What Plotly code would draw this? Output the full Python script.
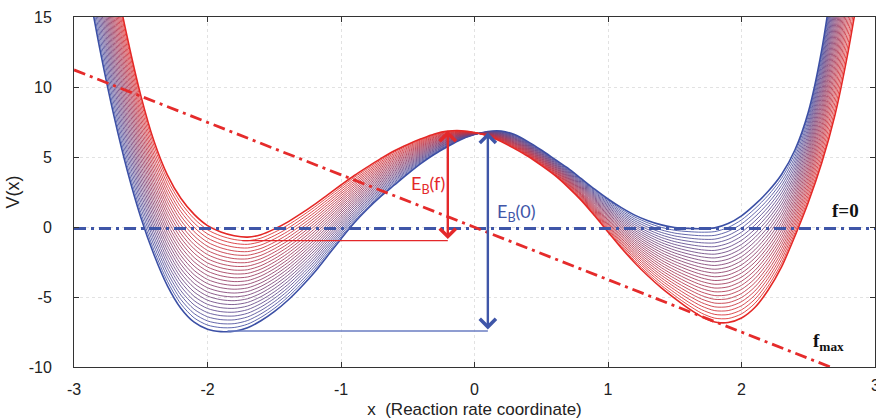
import numpy as np
import plotly.graph_objects as go

# ---- data ----
x_grid = [-2.9, -2.8, -2.7, -2.6, -2.5, -2.4, -2.3, -2.2, -2.1, -2.0,
          -1.9, -1.8, -1.7, -1.6, -1.5, -1.4, -1.3, -1.2, -1.1, -1.0,
          -0.9, -0.8, -0.7, -0.6, -0.5, -0.4, -0.3, -0.2, -0.1, 0.0,
          0.1, 0.2, 0.3, 0.4, 0.5, 0.6, 0.7, 0.8, 0.9, 1.0,
          1.1, 1.2, 1.3, 1.4, 1.5, 1.6, 1.7, 1.8, 1.9, 2.0,
          2.1, 2.2, 2.3, 2.4, 2.5, 2.6, 2.7, 2.8, 2.9]

# potential at f = 0 (outer blue curve)
v_f0 = [17.5, 12.4, 7.9, 4.0, 0.7, -2.0, -4.2, -5.8, -6.8, -7.3,
        -7.47, -7.45, -7.2, -6.7, -6.05, -5.25, -4.3, -3.25, -2.05, -0.85,
        0.3, 1.3, 2.2, 3.0, 3.8, 4.55, 5.2, 5.75, 6.25, 6.6,
        6.82, 6.85, 6.6, 6.1, 5.5, 4.85, 4.2, 3.45, 2.7, 2.0,
        1.38, 0.85, 0.45, 0.15, -0.03, -0.1, -0.12, -0.06, 0.25, 0.8,
        1.6, 2.55, 3.75, 5.5, 8.2, 12.6, 19.0, 27.0, 37.0]

# potential at f = f_max (outer red curve)
v_fmax = [30.0, 24.0, 18.2, 13.5, 9.4, 6.1, 3.7, 2.05, 0.9, 0.1,
          -0.35, -0.62, -0.72, -0.55, -0.15, 0.35, 0.95, 1.6, 2.3, 3.0,
          3.68, 4.3, 4.9, 5.45, 5.9, 6.3, 6.65, 6.85, 6.88, 6.75,
          6.5, 6.1, 5.6, 5.05, 4.4, 3.7, 2.85, 1.9, 0.8, -0.35,
          -1.5, -2.55, -3.5, -4.35, -5.1, -5.8, -6.4, -6.78, -6.82, -6.5,
          -5.75, -4.5, -2.85, -0.65, 1.75, 4.55, 8.0, 12.6, 18.2]

n_curves = 26
force_fraction = np.linspace(0.0, 1.0, n_curves)

f0_level = -0.1
fmax_line_x = [-3.0, 2.70]
fmax_line_v = [11.22, -10.13]

# barrier markers
ebf_x, ebf_low, ebf_high, ebf_from = -0.2, -0.97, 6.88, -1.74
eb0_x, eb0_low, eb0_high, eb0_from = 0.1, -7.42, 6.75, -1.85

x_ticks = [-3, -2, -1, 0, 1, 2, 3]
y_ticks = [-10, -5, 0, 5, 10, 15]

BLUE = (59, 79, 165)
RED = (228, 40, 38)
blue_hex = "#3b4fa5"
red_hex = "#e4282a"
tick_font = dict(family="Liberation Sans", size=16, color="#222")

fig = go.Figure()

v0 = np.array(v_f0)
v1 = np.array(v_fmax)
for i, t in enumerate(force_fraction):
    c = tuple(int(round(BLUE[k] * (1 - t) + RED[k] * t)) for k in range(3))
    w = 1.6 if i in (0, n_curves - 1) else 0.85
    fig.add_trace(go.Scatter(
        x=x_grid, y=(1 - t) * v0 + t * v1, mode="lines",
        line=dict(color="rgb(%d,%d,%d)" % c, width=w, shape="spline", smoothing=0.8),
        hoverinfo="skip"))

# f = 0 reference line
fig.add_trace(go.Scatter(
    x=[x_ticks[0], x_ticks[-1]], y=[f0_level, f0_level], mode="lines",
    line=dict(color="#3f56a8", width=3, dash="12px,5px,3px,5px"), hoverinfo="skip"))
# f_max tilt line
fig.add_trace(go.Scatter(
    x=fmax_line_x, y=fmax_line_v, mode="lines",
    line=dict(color="#e52b2b", width=2.8, dash="12px,5px,3px,5px"), hoverinfo="skip"))

# horizontal base lines for the barriers
fig.add_trace(go.Scatter(
    x=[ebf_from, ebf_x], y=[ebf_low, ebf_low], mode="lines",
    line=dict(color=red_hex, width=1.3), hoverinfo="skip"))
fig.add_trace(go.Scatter(
    x=[eb0_from, eb0_x], y=[eb0_low, eb0_low], mode="lines",
    line=dict(color="#6a7cc2", width=1.5), hoverinfo="skip"))

# double-headed arrows
for (xa, lo, hi, col) in [(ebf_x, ebf_low, ebf_high, red_hex),
                          (eb0_x, eb0_low, eb0_high, "#3f56a8")]:
    fig.add_annotation(x=xa, y=hi, ax=xa, ay=lo, xref="x", yref="y",
                       axref="x", ayref="y", text="", showarrow=True,
                       arrowhead=4, startarrowhead=4, arrowside="end+start",
                       arrowsize=1.3, startarrowsize=1.3,
                       arrowwidth=2.4, arrowcolor=col, standoff=0, startstandoff=0)

fig.add_annotation(x=-0.49, y=3.05, xref="x", yref="y", xanchor="left", yanchor="middle",
                   text="E<sub>B</sub>(f)", showarrow=False,
                   font=dict(family="Lato", size=18, color=red_hex))
fig.add_annotation(x=0.15, y=1.05, xref="x", yref="y", xanchor="left", yanchor="middle",
                   text="E<sub>B</sub>(0)", showarrow=False,
                   font=dict(family="Lato", size=18, color="#4056a8"))
fig.add_annotation(x=2.78, y=1.15, xref="x", yref="y", xanchor="center", yanchor="middle",
                   text="<b>f=0</b>", showarrow=False,
                   font=dict(family="Liberation Serif", size=19, color="#111"))
fig.add_annotation(x=2.65, y=-8.2, xref="x", yref="y", xanchor="center", yanchor="middle",
                   text="<b>f<sub>max</sub></b>", showarrow=False,
                   font=dict(family="Liberation Serif", size=19, color="#111"))
# last x tick label, partly cut by the page edge as in the reference
fig.add_annotation(x=x_ticks[-1], y=0, xref="x", yref="paper", xanchor="center",
                   yanchor="top", yshift=-8, text=str(x_ticks[-1]), showarrow=False,
                   font=tick_font)

axis_common = dict(showline=True, linecolor="#333", linewidth=1, mirror="ticks",
                   ticks="inside", ticklen=5, tickcolor="#333",
                   showgrid=True, gridcolor="#e2e2e2", griddash="dot", gridwidth=1,
                   zeroline=False, tickfont=tick_font)

fig.update_xaxes(range=[-3, 3], tickvals=x_ticks, ticktext=[str(v) for v in x_ticks],
                 ticklabelstandoff=8,
                 title=dict(text="x\u00a0 (Reaction rate coordinate)", standoff=5,
                            font=dict(family="Liberation Sans", size=17, color="#222")),
                 **axis_common)
fig.update_yaxes(range=[-10, 15], tickvals=y_ticks, ticktext=[str(v) for v in y_ticks],
                 ticklabelstandoff=18,
                 title=dict(text="V(x)", standoff=4,
                            font=dict(family="Liberation Sans", size=18, color="#222")),
                 **axis_common)

fig.update_layout(width=876, height=419, margin=dict(l=74, r=1, t=17, b=52),
                  plot_bgcolor="white", paper_bgcolor="white", showlegend=False)

fig.write_html("out.html")
